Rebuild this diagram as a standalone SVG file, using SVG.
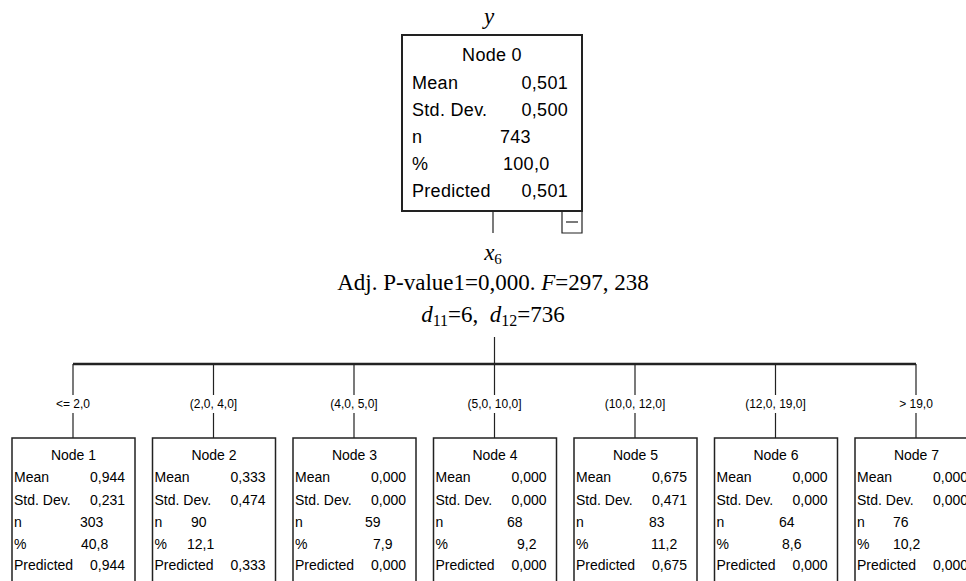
<svg xmlns="http://www.w3.org/2000/svg" width="966" height="581" viewBox="0 0 966 581">
<style>
.bg{fill:#fff}
.box0{fill:#fff;stroke:#222;stroke-width:2}
.box{fill:#fff;stroke:#222;stroke-width:1.5}
.t0{font-family:"Liberation Sans",Arial,sans-serif;font-size:18px;fill:#000;letter-spacing:0.3px}
.t{font-family:"Liberation Sans",Arial,sans-serif;font-size:14px;fill:#000}
.tl{font-family:"Liberation Sans",Arial,sans-serif;font-size:12px;fill:#000;text-anchor:middle}
.m{font-family:"Liberation Serif","Times New Roman",serif;font-size:23px;fill:#000;text-anchor:middle}
.c{text-anchor:middle}
.e{text-anchor:end}
.ln{stroke:#222;stroke-width:1.2;fill:none}
.hl{stroke:#222;stroke-width:2.5;fill:none}
</style>
<rect class="bg" x="0" y="0" width="966" height="581"/>

<text class="m" x="489" y="24" font-style="italic">y</text>
<text class="m" x="493" y="260" font-size="21"><tspan font-style="italic">x</tspan><tspan font-size="15" dy="4">6</tspan></text>
<text class="m" x="493" y="290">Adj. P-value1=0,000. <tspan font-style="italic">F</tspan>=297, 238</text>
<text class="m" x="493" y="322"><tspan font-style="italic">d</tspan><tspan font-size="16" dy="4">11</tspan><tspan dy="-4">=6,&#160; </tspan><tspan font-style="italic">d</tspan><tspan font-size="16" dy="4">12</tspan><tspan dy="-4">=736</tspan></text>

<g id="connectors">
<line class="ln" x1="493" y1="211" x2="493" y2="233"/>
<line class="ln" x1="494.5" y1="337" x2="494.5" y2="364"/>
<line class="hl" x1="73" y1="364" x2="916" y2="364"/>
<path class="ln" d="M73 364V395M73 413V438M213.5 364V395M213.5 413V438M354 364V395M354 413V438M494.5 364V395M494.5 413V438M635 364V395M635 413V438M775.5 364V395M775.5 413V438M916 364V395M916 413V438"/>
<text class="tl" x="73" y="408">&lt;= 2,0</text>
<text class="tl" x="213.5" y="408">(2,0, 4,0]</text>
<text class="tl" x="354" y="408">(4,0, 5,0]</text>
<text class="tl" x="494.5" y="408">(5,0, 10,0]</text>
<text class="tl" x="635" y="408">(10,0, 12,0]</text>
<text class="tl" x="775.5" y="408">(12,0, 19,0]</text>
<text class="tl" x="916" y="408">&gt; 19,0</text>
</g>

<g id="node0">
<rect class="box0" x="402" y="35" width="180" height="176"/>
<path class="ln" d="M562 211V233H582V211"/>
<line class="ln" x1="566" y1="222" x2="578" y2="222"/>
<text class="t0 c" x="492" y="61">Node 0</text>
<text class="t0" x="412" y="89">Mean</text><text class="t0 e" x="568" y="89">0,501</text>
<text class="t0" x="412" y="116">Std. Dev.</text><text class="t0 e" x="568" y="116">0,500</text>
<text class="t0" x="412" y="143">n</text><text class="t0" x="500" y="143">743</text>
<text class="t0" x="412" y="170">%</text><text class="t0" x="503" y="170">100,0</text>
<text class="t0" x="412" y="197">Predicted</text><text class="t0 e" x="568" y="197">0,501</text>
</g>

<g id="node1">
<rect class="box" x="12" y="438" width="123" height="160"/>
<text class="t c" x="73.5" y="460">Node 1</text>
<text class="t" x="14" y="482">Mean</text><text class="t e" x="125" y="482">0,944</text>
<text class="t" x="14" y="504.5">Std. Dev.</text><text class="t e" x="125" y="504.5">0,231</text>
<text class="t" x="14" y="527">n</text><text class="t" x="80" y="527">303</text>
<text class="t" x="14" y="548.5">%</text><text class="t" x="81" y="548.5">40,8</text>
<text class="t" x="14" y="570">Predicted</text><text class="t e" x="125" y="570">0,944</text>
</g>

<g id="node2">
<rect class="box" x="152.5" y="438" width="123" height="160"/>
<text class="t c" x="214" y="460">Node 2</text>
<text class="t" x="154.5" y="482">Mean</text><text class="t e" x="265.5" y="482">0,333</text>
<text class="t" x="154.5" y="504.5">Std. Dev.</text><text class="t e" x="265.5" y="504.5">0,474</text>
<text class="t" x="154.5" y="527">n</text><text class="t" x="191" y="527">90</text>
<text class="t" x="154.5" y="548.5">%</text><text class="t" x="187" y="548.5">12,1</text>
<text class="t" x="154.5" y="570">Predicted</text><text class="t e" x="265.5" y="570">0,333</text>
</g>

<g id="node3">
<rect class="box" x="293" y="438" width="123" height="160"/>
<text class="t c" x="354.5" y="460">Node 3</text>
<text class="t" x="295" y="482">Mean</text><text class="t e" x="406" y="482">0,000</text>
<text class="t" x="295" y="504.5">Std. Dev.</text><text class="t e" x="406" y="504.5">0,000</text>
<text class="t" x="295" y="527">n</text><text class="t" x="365" y="527">59</text>
<text class="t" x="295" y="548.5">%</text><text class="t" x="373" y="548.5">7,9</text>
<text class="t" x="295" y="570">Predicted</text><text class="t e" x="406" y="570">0,000</text>
</g>

<g id="node4">
<rect class="box" x="433.5" y="438" width="123" height="160"/>
<text class="t c" x="495" y="460">Node 4</text>
<text class="t" x="435.5" y="482">Mean</text><text class="t e" x="546.5" y="482">0,000</text>
<text class="t" x="435.5" y="504.5">Std. Dev.</text><text class="t e" x="546.5" y="504.5">0,000</text>
<text class="t" x="435.5" y="527">n</text><text class="t" x="507" y="527">68</text>
<text class="t" x="435.5" y="548.5">%</text><text class="t" x="517" y="548.5">9,2</text>
<text class="t" x="435.5" y="570">Predicted</text><text class="t e" x="546.5" y="570">0,000</text>
</g>

<g id="node5">
<rect class="box" x="574" y="438" width="123" height="160"/>
<text class="t c" x="635.5" y="460">Node 5</text>
<text class="t" x="576" y="482">Mean</text><text class="t e" x="687" y="482">0,675</text>
<text class="t" x="576" y="504.5">Std. Dev.</text><text class="t e" x="687" y="504.5">0,471</text>
<text class="t" x="576" y="527">n</text><text class="t" x="649" y="527">83</text>
<text class="t" x="576" y="548.5">%</text><text class="t" x="651" y="548.5">11,2</text>
<text class="t" x="576" y="570">Predicted</text><text class="t e" x="687" y="570">0,675</text>
</g>

<g id="node6">
<rect class="box" x="714.5" y="438" width="123" height="160"/>
<text class="t c" x="776" y="460">Node 6</text>
<text class="t" x="716.5" y="482">Mean</text><text class="t e" x="827.5" y="482">0,000</text>
<text class="t" x="716.5" y="504.5">Std. Dev.</text><text class="t e" x="827.5" y="504.5">0,000</text>
<text class="t" x="716.5" y="527">n</text><text class="t" x="779" y="527">64</text>
<text class="t" x="716.5" y="548.5">%</text><text class="t" x="782" y="548.5">8,6</text>
<text class="t" x="716.5" y="570">Predicted</text><text class="t e" x="827.5" y="570">0,000</text>
</g>

<g id="node7">
<rect class="box" x="855" y="438" width="123" height="160"/>
<text class="t c" x="916.5" y="460">Node 7</text>
<text class="t" x="857" y="482">Mean</text><text class="t e" x="968" y="482">0,000</text>
<text class="t" x="857" y="504.5">Std. Dev.</text><text class="t e" x="968" y="504.5">0,000</text>
<text class="t" x="857" y="527">n</text><text class="t" x="893" y="527">76</text>
<text class="t" x="857" y="548.5">%</text><text class="t" x="893" y="548.5">10,2</text>
<text class="t" x="857" y="570">Predicted</text><text class="t e" x="968" y="570">0,000</text>
</g>
</svg>
